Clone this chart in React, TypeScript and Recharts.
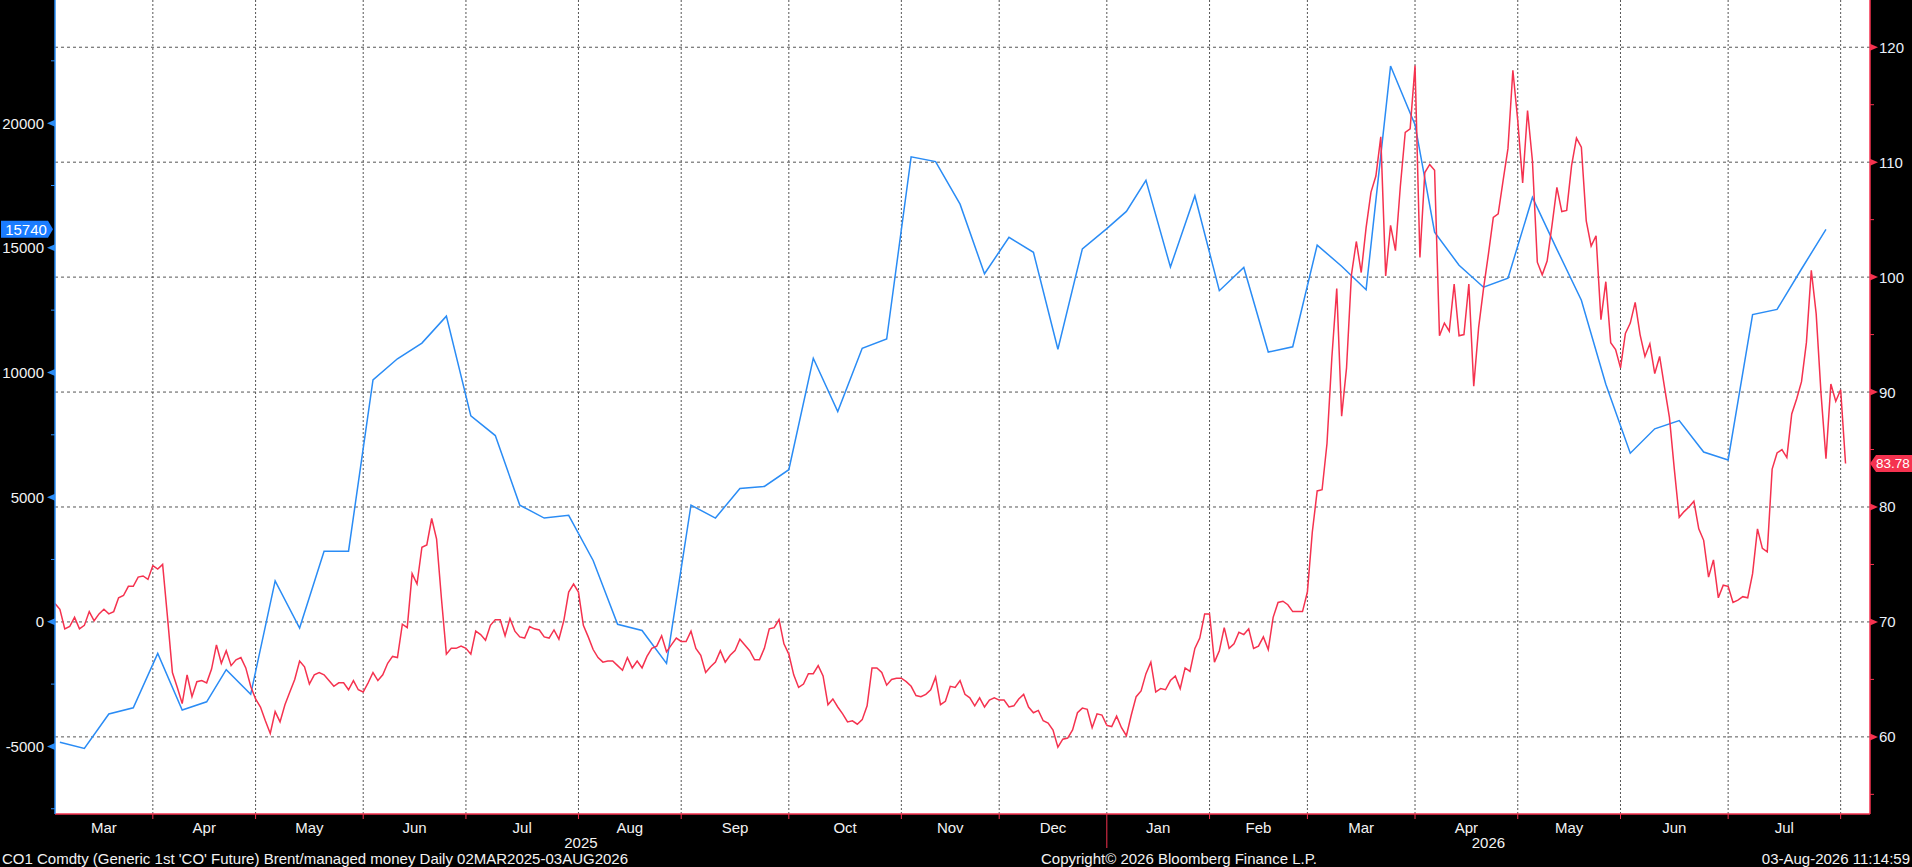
import React from 'react';
import {
  LineChart,
  Line,
  XAxis,
  YAxis,
  CartesianGrid,
  ReferenceLine,
  ReferenceDot,
} from 'recharts';

// Brent (CO1) daily close, one value per trading day from 03MAR2025
const BRENT: number[] = [
  71.6, 71.1, 69.4, 69.6, 70.4, 69.4, 69.7, 70.9, 70.1, 70.7,
  71.1, 70.7, 70.9, 72.1, 72.3, 73.1, 73.1, 73.9, 74.0, 73.7,
  74.9, 74.6, 75.0, 70.4, 65.6, 64.3, 62.9, 65.4, 63.5, 64.8,
  64.9, 64.7, 65.9, 68.0, 66.4, 67.5, 66.2, 66.7, 66.9, 66.0,
  64.4, 63.3, 62.6, 61.4, 60.3, 62.2, 61.3, 62.8, 63.9, 65.0,
  66.6, 66.1, 64.6, 65.4, 65.6, 65.4, 64.9, 64.4, 64.7, 64.7,
  64.1, 64.9, 64.1, 63.9, 64.7, 65.6, 64.9, 65.4, 66.4, 67.0,
  66.9, 69.8, 69.5, 74.2, 73.3, 76.5, 76.7, 79.0, 77.2, 72.0,
  67.2, 67.7, 67.7, 67.9, 67.7, 67.2, 69.2, 68.9, 68.4, 69.7,
  70.2, 70.2, 68.8, 70.3, 69.2, 68.7, 68.6, 69.6, 69.4, 69.3,
  68.7, 68.6, 69.3, 68.5, 70.1, 72.6, 73.3, 72.6, 69.7, 68.7,
  67.6, 66.9, 66.5, 66.6, 66.6, 66.2, 65.8, 66.9, 66.0, 66.6,
  66.0, 67.0, 67.7, 67.9, 68.8, 67.4, 68.0, 68.6, 68.3, 68.3,
  69.2, 67.7, 67.1, 65.6, 66.1, 66.5, 67.5, 66.5, 67.1, 67.5,
  68.5, 68.0, 67.5, 66.7, 66.7, 67.7, 69.4, 69.5, 70.2, 68.1,
  67.2, 65.4, 64.3, 64.6, 65.5, 65.5, 66.2, 65.3, 62.8, 63.3,
  62.6, 62.0, 61.3, 61.4, 61.1, 61.5, 62.7, 66.0, 66.0, 65.6,
  64.5, 65.0, 65.1, 65.1, 64.8, 64.4, 63.6, 63.5, 63.7, 64.1,
  65.2, 62.8, 63.1, 64.4, 64.3, 64.9, 63.7, 63.4, 62.7, 63.4,
  62.6, 63.2, 63.4, 63.2, 63.2, 62.6, 62.7, 63.3, 63.7, 62.6,
  62.1, 62.3, 61.4, 61.2, 60.6, 59.1, 59.8, 59.9, 60.6, 62.1,
  62.5, 62.4, 60.8, 62.0, 61.9, 61.0, 60.9, 61.8, 60.8, 60.1,
  61.9, 63.5, 64.0, 65.5, 66.5, 63.9, 64.2, 64.1, 64.9, 65.3,
  64.2, 66.0, 65.7, 67.7, 68.6, 70.7, 70.7, 66.5, 67.5, 69.5,
  67.7, 68.1, 69.1, 68.9, 69.4, 67.7, 67.9, 68.7, 67.6, 70.4,
  71.7, 71.8, 71.5, 70.9, 70.9, 70.9, 72.6, 77.8, 81.4, 81.5,
  85.5, 93.0, 99.0, 87.9, 92.1, 100.2, 103.1, 100.4, 104.3, 107.4,
  108.8, 112.2, 100.1, 104.5, 102.3, 107.9, 112.6, 112.9, 118.4, 101.7,
  109.1, 109.8, 109.3, 94.9, 96.0, 95.3, 99.4, 94.9, 95.0, 99.4,
  90.5, 95.6, 99.0, 102.0, 105.2, 105.5, 108.4, 111.2, 118.0, 113.6,
  108.2, 114.5, 110.1, 101.3, 100.2, 101.4, 104.5, 107.8, 105.7, 105.8,
  109.7, 112.1, 111.3, 104.9, 102.7, 103.6, 96.3, 99.6, 94.3, 93.7,
  92.1, 95.1, 96.0, 97.8, 95.0, 93.1, 94.2, 91.6, 93.1, 90.4,
  87.8, 83.3, 79.1, 79.6, 80.0, 80.5, 78.1, 77.1, 73.9, 75.4,
  72.1, 73.2, 73.1, 71.7, 71.9, 72.2, 72.1, 74.2, 78.1, 76.4,
  76.1, 83.3, 84.7, 85.0, 84.3, 88.1, 89.4, 90.9, 94.3, 100.6,
  96.8, 89.8, 84.2, 90.7, 89.2, 90.2, 83.78,
];

// managed money net position, weekly (trading-day index of each report)
const MM_DAY: number[] = [
  1, 6, 11, 16, 21, 26, 31, 35, 40, 45, 50, 55, 60, 65, 70, 75, 80, 85, 90, 95,
  100, 105, 110, 115, 120, 125, 130, 135, 140, 145, 150, 155, 160, 165, 170, 175,
  180, 185, 190, 195, 200, 205, 210, 215, 219, 223, 228, 233, 238, 243, 248, 253,
  258, 263, 268, 273, 278, 282, 287, 292, 297, 302, 307, 312, 317, 322, 327, 332,
  337, 342, 347, 352, 357, 362,
];
const MM: number[] = [
  -4830, -5080, -3700, -3450, -1270, -3540, -3210, -1920, -2910, 1640, -250, 2830,
  2830, 9700, 10550, 11180, 12260, 8260, 7470, 4680, 4160, 4270, 2460, -100, -350,
  -1670, 4680, 4160, 5350, 5430, 6100, 10570, 8430, 10970, 11340, 18650, 18460,
  16750, 13960, 15420, 14820, 10930, 14960, 15770, 16460, 17710, 14230, 17090,
  13280, 14210, 10820, 11030, 15110, 14260, 13320, 22290, 19940, 15630, 14300,
  13420, 13780, 17020, 14940, 12900, 9530, 6760, 7740, 8070, 6810, 6490, 12320,
  12530, 14150, 15740,
];

const MONTHS = ['Mar', 'Apr', 'May', 'Jun', 'Jul', 'Aug', 'Sep', 'Oct', 'Nov', 'Dec',
  'Jan', 'Feb', 'Mar', 'Apr', 'May', 'Jun', 'Jul'];
// trading-day index where each month starts (last one = Aug 2026)
const MONTH_START = [0, 20, 41, 63, 84, 107, 128, 150, 173, 193, 215, 236, 256, 278,
  299, 320, 342, 365];
const YEARS = ['2025', '2026'];
const YEAR_START = [0, 215];
const LAST_DAY = 371;

const MM_TICKS = [-7500, -5000, -2500, 0, 2500, 5000, 7500, 10000, 12500, 15000, 17500, 20000, 22500];
const PX_TICKS = [55, 60, 65, 70, 75, 80, 85, 90, 95, 100, 105, 110, 115, 120];

const BLUE = '#2a8cf5';
const RED = '#f5324f';
const GRID = '#555';
const FONT = '"Liberation Sans Narrow", "Arial Narrow", "Liberation Sans", sans-serif';

const brentData = BRENT.map((v, i) => ({ d: i, v }));
const mmData = MM_DAY.map((d, i) => ({ d, v: MM[i] }));

type XKind = { kind: 'b' | 'm' | 'y'; label?: string; year?: boolean };
const xKinds = new Map<number, XKind>();
MONTH_START.slice(1).forEach((d) => xKinds.set(d, { kind: 'b', year: YEAR_START.includes(d) }));
MONTHS.forEach((m, i) => xKinds.set((MONTH_START[i] + MONTH_START[i + 1]) / 2, { kind: 'm', label: m }));
YEARS.forEach((y, i) => {
  const end = i + 1 < YEAR_START.length ? YEAR_START[i + 1] : LAST_DAY;
  xKinds.set((YEAR_START[i] + end) / 2, { kind: 'y', label: y });
});
const X_TICKS = Array.from(xKinds.keys()).sort((a, b) => a - b);

function XTick(props: any) {
  const { x, y, payload } = props;
  const k = xKinds.get(payload.value);
  if (!k) return null;
  if (k.kind === 'b') {
    return <line x1={x} x2={x} y1={y} y2={y + (k.year ? 34 : 5)} stroke={RED} strokeWidth={1} />;
  }
  return (
    <text x={x} y={y + (k.kind === 'm' ? 13 : 28)} textAnchor="middle" dominantBaseline="central"
      fill="#f2f2f2" fontSize={15} fontFamily={FONT}>
      {k.label}
    </text>
  );
}

function LeftTick(props: any) {
  const { x, y, payload } = props;
  const v = payload.value;
  if (v % 5000 !== 0) return <line x1={x - 4} x2={x} y1={y} y2={y} stroke={BLUE} />;
  return (
    <g>
      <path d={`M${x} ${y - 3.5} L${x - 8} ${y} L${x} ${y + 3.5} Z`} fill={BLUE} />
      <text x={x - 11} y={y} textAnchor="end" dominantBaseline="central" fill="#f2f2f2"
        fontSize={15} fontFamily={FONT}>
        {v}
      </text>
    </g>
  );
}

function RightTick(props: any) {
  const { x, y, payload } = props;
  const v = payload.value;
  if (v % 10 !== 0) return <line x1={x} x2={x + 4} y1={y} y2={y} stroke={RED} />;
  return (
    <g>
      <path d={`M${x} ${y - 3.5} L${x + 8} ${y} L${x} ${y + 3.5} Z`} fill={RED} />
      <text x={x + 9} y={y} textAnchor="start" dominantBaseline="central" fill="#eaf0fa"
        fontSize={15} fontFamily={FONT}>
        {v}
      </text>
    </g>
  );
}

function LeftBadge(props: any) {
  const { cx, cy } = props;
  return (
    <g>
      <path d={`M${cx - 54} ${cy - 8.5} H${cx - 7} L${cx - 2} ${cy} L${cx - 7} ${cy + 8.5} H${cx - 54} Z`} fill="#1a7cff" />
      <text x={cx - 29} y={cy} textAnchor="middle" dominantBaseline="central" fill="#fff"
        fontSize={15} fontFamily={FONT}>
        {MM[MM.length - 1]}
      </text>
    </g>
  );
}

function RightBadge(props: any) {
  const { cx, cy } = props;
  return (
    <g>
      <path d={`M${cx} ${cy} L${cx + 6} ${cy - 8.5} H${cx + 42} V${cy + 8.5} H${cx + 6} Z`} fill={RED} />
      <text x={cx + 23} y={cy} textAnchor="middle" dominantBaseline="central" fill="#fff"
        fontSize={13.5} fontFamily={FONT}>
        {BRENT[BRENT.length - 1].toFixed(2)}
      </text>
    </g>
  );
}

const footer: React.CSSProperties = {
  position: 'absolute',
  top: 850,
  height: 18,
  lineHeight: '18px',
  color: '#f2f2f2',
  fontFamily: FONT,
  fontSize: 15,
  whiteSpace: 'nowrap',
};

export default function App() {
  return (
    <div style={{ position: 'fixed', left: 0, top: 0, width: 1912, height: 867, background: '#000', overflow: 'hidden' }}>
      <LineChart width={1912} height={867} margin={{ top: 0, right: 0, bottom: 0, left: 0 }}>
        <CartesianGrid yAxisId="px" fill="#fff" horizontal={false} vertical={false} />
        <XAxis
          dataKey="d"
          type="number"
          domain={[0, LAST_DAY]}
          allowDataOverflow
          ticks={X_TICKS}
          interval={0}
          tick={XTick}
          tickLine={false}
          tickSize={0}
          tickMargin={0}
          height={53}
          axisLine={{ stroke: RED, strokeWidth: 1.5 }}
        />
        <YAxis
          yAxisId="mm"
          orientation="left"
          type="number"
          width={55}
          domain={[-7710, 24940]}
          allowDataOverflow
          ticks={MM_TICKS}
          interval={0}
          tick={LeftTick}
          tickLine={false}
          tickSize={0}
          tickMargin={0}
          axisLine={{ stroke: BLUE, strokeWidth: 1.5 }}
        />
        <YAxis
          yAxisId="px"
          orientation="right"
          type="number"
          width={42}
          domain={[53.29, 124.11]}
          allowDataOverflow
          ticks={PX_TICKS}
          interval={0}
          tick={RightTick}
          tickLine={false}
          tickSize={0}
          tickMargin={0}
          axisLine={{ stroke: RED, strokeWidth: 1.5 }}
        />
        {PX_TICKS.filter((v) => v % 10 === 0).map((v) => (
          <ReferenceLine key={'h' + v} yAxisId="px" y={v} stroke={GRID} strokeDasharray="3 3" />
        ))}
        {MONTH_START.slice(1).map((d) => (
          <ReferenceLine key={'v' + d} yAxisId="px" x={d} stroke={GRID} strokeDasharray="2 2" />
        ))}
        <Line
          data={mmData}
          dataKey="v"
          yAxisId="mm"
          type="linear"
          stroke={BLUE}
          strokeWidth={1.5}
          dot={false}
          isAnimationActive={false}
        />
        <Line
          data={brentData}
          dataKey="v"
          yAxisId="px"
          type="linear"
          stroke={RED}
          strokeWidth={1.5}
          dot={false}
          isAnimationActive={false}
        />
        <ReferenceDot yAxisId="mm" x={0} y={MM[MM.length - 1]} r={0} ifOverflow="visible" shape={LeftBadge} />
        <ReferenceDot yAxisId="px" x={LAST_DAY} y={BRENT[BRENT.length - 1]} r={0} ifOverflow="visible" shape={RightBadge} />
      </LineChart>
      <div style={{ ...footer, left: 2 }}>
        CO1 Comdty (Generic 1st 'CO' Future) Brent/managed money Daily 02MAR2025-03AUG2026
      </div>
      <div style={{ ...footer, left: 1041 }}>Copyright© 2026 Bloomberg Finance L.P.</div>
      <div style={{ ...footer, right: 2 }}>03-Aug-2026 11:14:59</div>
    </div>
  );
}
